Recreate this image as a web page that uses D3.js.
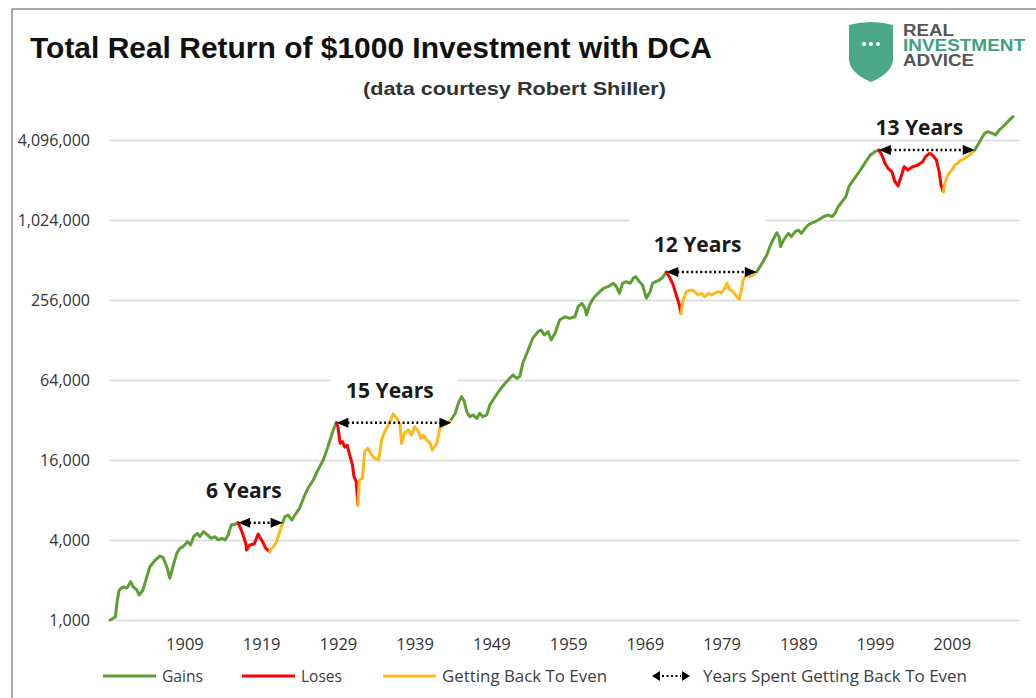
<!DOCTYPE html>
<html><head><meta charset="utf-8">
<script src="https://cdn.jsdelivr.net/npm/d3@7"></script>
<style>body{margin:0;background:#fff;} svg{display:block;}</style>
</head><body>
<svg id="chart" width="1036" height="698"></svg>
<script>
// ---------------- data ----------------
const years = [1899.3,1900.0,1900.2,1900.5,1901.0,1901.5,1902.0,1902.3,1902.8,1903.1,1903.6,1904.1,1904.5,1905.2,1905.8,1906.2,1906.7,1907.1,1907.5,1908.0,1908.4,1908.8,1909.4,1909.8,1910.2,1910.7,1911.0,1911.5,1912.0,1912.5,1913.0,1913.4,1913.9,1914.3,1914.7,1915.1,1915.6,1916.0,1916.5,1917.0,1917.1,1917.5,1918.1,1918.6,1919.3,1919.6,1920.1,1920.6,1921.0,1921.5,1921.8,1922.1,1922.5,1923.0,1923.4,1924.0,1924.6,1925.1,1925.8,1926.4,1927.1,1927.7,1928.4,1928.8,1929.0,1929.3,1929.6,1929.9,1930.2,1930.6,1930.9,1931.1,1931.4,1931.6,1931.8,1932.2,1932.5,1932.9,1933.4,1933.8,1934.3,1934.7,1935.1,1935.8,1936.2,1936.7,1937.1,1937.3,1937.7,1938.2,1938.6,1939.0,1939.5,1939.8,1940.1,1940.6,1941.0,1941.3,1941.9,1942.3,1942.8,1943.4,1943.8,1944.3,1944.7,1945.1,1945.4,1945.8,1946.2,1946.6,1947.1,1947.5,1947.9,1948.4,1948.8,1949.5,1950.1,1950.8,1951.4,1951.8,1952.3,1952.7,1953.1,1953.8,1954.4,1955.1,1955.5,1955.9,1956.4,1956.8,1957.3,1957.9,1958.6,1959.2,1959.9,1960.3,1960.8,1961.2,1961.4,1961.8,1962.3,1962.9,1963.6,1964.2,1964.9,1965.3,1965.7,1966.1,1966.6,1967.1,1967.5,1967.8,1968.3,1968.7,1969.2,1969.7,1970.0,1970.4,1970.9,1971.4,1971.8,1972.3,1972.7,1973.1,1973.5,1973.7,1974.0,1974.4,1975.1,1975.5,1975.9,1976.4,1976.8,1977.3,1977.7,1978.1,1978.6,1979.0,1979.4,1979.7,1980.1,1980.5,1981.0,1981.3,1981.6,1981.8,1982.3,1982.7,1983.1,1983.6,1984.0,1984.4,1984.9,1985.3,1985.7,1986.2,1986.5,1986.7,1987.1,1987.7,1988.1,1988.6,1989.0,1989.4,1989.9,1990.3,1990.7,1991.2,1991.6,1992.3,1992.9,1993.4,1993.8,1994.2,1994.7,1995.2,1995.6,1996.5,1997.1,1997.8,1998.4,1999.0,1999.5,1999.9,2000.3,2000.7,2001.2,2001.6,2002.0,2002.4,2002.8,2003.3,2003.9,2004.6,2005.2,2005.6,2006.1,2006.5,2007.0,2007.4,2007.6,2007.9,2008.1,2008.5,2009.0,2009.4,2009.8,2010.2,2010.7,2011.3,2011.8,2012.0,2012.4,2012.9,2013.3,2013.7,2014.3,2014.7,2015.2,2015.9,2016.5,2017.0];
const values = [1000,1053,1343,1682,1772,1741,1942,1781,1682,1542,1682,2118,2518,2828,3031,2964,2518,2060,2518,3176,3464,3562,3884,3668,4236,4493,4236,4620,4362,4120,4236,4000,4120,4000,4362,5187,5250,5398,4620,3778,3364,3668,3732,4438,3778,3464,3266,3562,3884,4757,5398,5990,6169,5657,6169,6928,8474,9797,11314,13454,16000,20150,26909,30539,28490,21368,21970,19940,20749,16946,14672,11980,10986,7336,11314,11652,18480,19594,17448,16480,16000,22627,26130,31063,35507,32953,29344,21368,25410,26909,24675,28490,26130,23300,24675,22627,21368,19027,21368,27710,29344,30539,32390,35940,42736,47920,45255,36960,33890,34896,32953,35940,33890,34896,41498,47920,53817,60436,65900,69793,65900,67780,85472,107635,131800,147850,152220,139585,147850,128000,143790,181019,191680,186430,191680,227990,241740,221700,197400,234750,263700,287600,313500,322400,341900,322400,287600,341900,351400,341900,372900,383400,351400,332000,263700,295700,341900,351400,362000,383400,415900,372900,332000,279200,234750,203300,256000,295700,304400,295700,279200,287600,271200,287600,279200,287600,295700,290300,313500,341900,304400,295700,271200,259100,304400,362000,394800,383400,394800,418100,455900,497000,558300,644600,724100,821000,766700,644600,724100,812900,766700,836200,861100,812900,886800,939000,967000,994000,1024000,1084000,1116700,1084000,1150000,1289000,1405000,1533000,1824000,2168000,2435000,2813000,3158000,3344000,3444000,3158000,2735000,2508000,2366000,1988000,1846000,2168000,2578000,2435000,2578000,2656000,2813000,3067000,3252000,3158000,2896000,2301000,1878000,1672000,1934000,2233000,2435000,2656000,2735000,2896000,2983000,3158000,3344000,3444000,3756000,4218000,4600000,4732000,4600000,4467000,4871000,5312000,5793000,6134000];

const peakYears     = [1916.0, 1928.8, 1971.8, 1999.5];
const troughYears   = [1920.1, 1931.6, 1973.7, 2007.9];
const recoveryYears = [1921.8, 1943.8, 1983.6, 2012.0];
const spanLabels    = ["6 Years", "15 Years", "12 Years", "13 Years"];

const yTickValues = [1000, 4000, 16000, 64000, 256000, 1024000, 4096000];
const xTickValues = [1909, 1919, 1929, 1939, 1949, 1959, 1969, 1979, 1989, 1999, 2009];
const legendLabels = ["Gains", "Loses", "Getting Back To Even", "Years Spent Getting Back To Even"];

const titleText = "Total Real Return of $1000 Investment with DCA";
const subtitleText = "(data courtesy Robert Shiller)";
const logoLines = ["REAL", "INVESTMENT", "ADVICE"];

// ---------------- layout / style ----------------
const COLORS = { gain: "#5e9f33", loss: "#ff0000", even: "#ffb81a" };
const FONT = "'Open Sans', sans-serif";
const labelOffsets = [[-16.5, -25], [-4, -25], [-14, -20], [-7.5, -15]];
const labelMasks = [null, [330, 371, 127, 30], [630, 212, 136, 44], null];

const svg = d3.select("#chart");
const x = d3.scaleLinear().domain([1899.3, 2017.9]).range([110, 1020]);
const y = d3.scaleLog().base(4).domain([1000, 4096000]).range([620, 140]);

// frame
svg.append("rect").attr("x", 12).attr("y", 9).attr("width", 1040).attr("height", 700)
  .attr("fill", "#fff").attr("stroke", "#8c8c8c").attr("stroke-width", 1.5);

// title
svg.append("text").attr("x", 30).attr("y", 58).text(titleText)
  .attr("font-family", "'Liberation Sans', Arial, sans-serif").attr("font-weight", "bold")
  .attr("font-size", 29).attr("fill", "#111").attr("textLength", 682).attr("lengthAdjust", "spacingAndGlyphs");
svg.append("text").attr("x", 363).attr("y", 95).text(subtitleText)
  .attr("font-family", "'Liberation Sans', Arial, sans-serif").attr("font-weight", "bold")
  .attr("font-size", 19).attr("fill", "#333").attr("textLength", 303).attr("lengthAdjust", "spacingAndGlyphs");

// logo
const logo = svg.append("g");
logo.append("path").attr("d", "M849,25 Q871,19 893,25 L893,60 Q892,73 871,82 Q850,73 849,60 Z").attr("fill", "#4aa887");
[864, 871, 878].forEach(cx => logo.append("circle").attr("cx", cx).attr("cy", 44).attr("r", 2).attr("fill", "#fff"));
const logoLens = [51, 122, 71];
const logoCols = ["#555", "#3fa17f", "#555"];
logoLines.forEach((t, i) => logo.append("text").attr("x", 903).attr("y", 36 + i * 15).text(t)
  .attr("font-family", "'Liberation Sans', Arial, sans-serif").attr("font-weight", "bold")
  .attr("font-size", 16).attr("fill", logoCols[i]).attr("textLength", logoLens[i]).attr("lengthAdjust", "spacingAndGlyphs"));

// gridlines
const grid = svg.append("g").attr("transform", "translate(110,0)")
  .call(d3.axisLeft(y).tickValues(yTickValues).tickSize(-910).tickFormat(""));
grid.select(".domain").remove();
grid.selectAll("line").attr("stroke", "#d9d9d9").attr("stroke-width", 1.3);

// y axis labels
const yAx = svg.append("g").attr("transform", "translate(110,0)")
  .call(d3.axisLeft(y).tickValues(yTickValues).tickSize(0).tickPadding(20).tickFormat(d3.format(",")));
yAx.select(".domain").remove();
yAx.selectAll("text").attr("font-family", FONT).attr("font-size", 16).attr("fill", "#333");

// x axis labels
const xAx = svg.append("g").attr("transform", "translate(0,620)")
  .call(d3.axisBottom(x).tickValues(xTickValues).tickSize(0).tickPadding(18).tickFormat(d3.format("d")));
xAx.select(".domain").remove();
xAx.selectAll("text").attr("font-family", FONT).attr("font-size", 16.5).attr("fill", "#333");

// label masks (white boxes behind some labels)
labelMasks.forEach(m => { if (m) svg.append("rect").attr("x", m[0]).attr("y", m[1]).attr("width", m[2]).attr("height", m[3]).attr("fill", "#fff"); });

// series coloured by phase
const pts = years.map((yr, i) => ({ yr, v: values[i] }));
function phase(mid) {
  for (let k = 0; k < peakYears.length; k++) {
    if (mid > peakYears[k] && mid < troughYears[k]) return "loss";
    if (mid > troughYears[k] && mid < recoveryYears[k]) return "even";
  }
  return "gain";
}
const runs = [];
for (let i = 1; i < pts.length; i++) {
  const ph = phase((pts[i - 1].yr + pts[i].yr) / 2);
  const last = runs[runs.length - 1];
  if (last && last.ph === ph) last.pts.push(pts[i]);
  else runs.push({ ph, pts: [pts[i - 1], pts[i]] });
}
const line = d3.line().x(d => x(d.yr)).y(d => y(d.v));
svg.append("g").selectAll("path").data(runs).join("path")
  .attr("d", d => line(d.pts)).attr("fill", "none")
  .attr("stroke", d => COLORS[d.ph]).attr("stroke-width", 3)
  .attr("stroke-linejoin", "round").attr("stroke-linecap", "round");

// arrows + labels
const valAt = yr => values[years.indexOf(yr)];
const ann = svg.append("g");
function arrowHead(g, tipX, yy, dir, len, h) {
  g.append("path").attr("d", `M${tipX},${yy} L${tipX + dir * len},${yy - h / 2} L${tipX + dir * len},${yy + h / 2} Z`).attr("fill", "#000");
}
peakYears.forEach((py, k) => {
  const x0 = x(py), x1 = x(recoveryYears[k]), yy = y(valAt(py));
  ann.append("line").attr("x1", x0 + 11).attr("x2", x1 - 11).attr("y1", yy).attr("y2", yy)
    .attr("stroke", "#000").attr("stroke-width", 2.5).attr("stroke-dasharray", "2,2.6");
  arrowHead(ann, x0, yy, 1, 12, 10);
  arrowHead(ann, x1, yy, -1, 12, 10);
  ann.append("text").attr("x", (x0 + x1) / 2 + labelOffsets[k][0]).attr("y", yy + labelOffsets[k][1])
    .attr("text-anchor", "middle").text(spanLabels[k])
    .attr("font-family", FONT).attr("font-weight", "bold").attr("font-size", 21).attr("fill", "#1a1a1a");
});

// legend
const leg = svg.append("g").attr("font-family", FONT).attr("font-size", 16).attr("fill", "#404040");
const legX = [103, 242, 383];
const legKeys = ["gain", "loss", "even"];
const legLens = [41, 41, 165, 264];
legKeys.forEach((k, i) => {
  leg.append("line").attr("x1", legX[i]).attr("x2", legX[i] + 53).attr("y1", 676).attr("y2", 676)
    .attr("stroke", COLORS[k]).attr("stroke-width", 3);
  leg.append("text").attr("x", legX[i] + 59).attr("y", 676).attr("dy", "0.35em").text(legendLabels[i])
    .attr("textLength", legLens[i]).attr("lengthAdjust", "spacingAndGlyphs");
});
arrowHead(leg, 652, 676, 1, 8, 10);
arrowHead(leg, 690, 676, -1, 8, 10);
leg.append("line").attr("x1", 662).attr("x2", 681).attr("y1", 676).attr("y2", 676)
  .attr("stroke", "#000").attr("stroke-width", 2).attr("stroke-dasharray", "2,2.5");
leg.append("text").attr("x", 703).attr("y", 676).attr("dy", "0.35em").text(legendLabels[3])
  .attr("textLength", legLens[3]).attr("lengthAdjust", "spacingAndGlyphs");
</script>
</body></html>
